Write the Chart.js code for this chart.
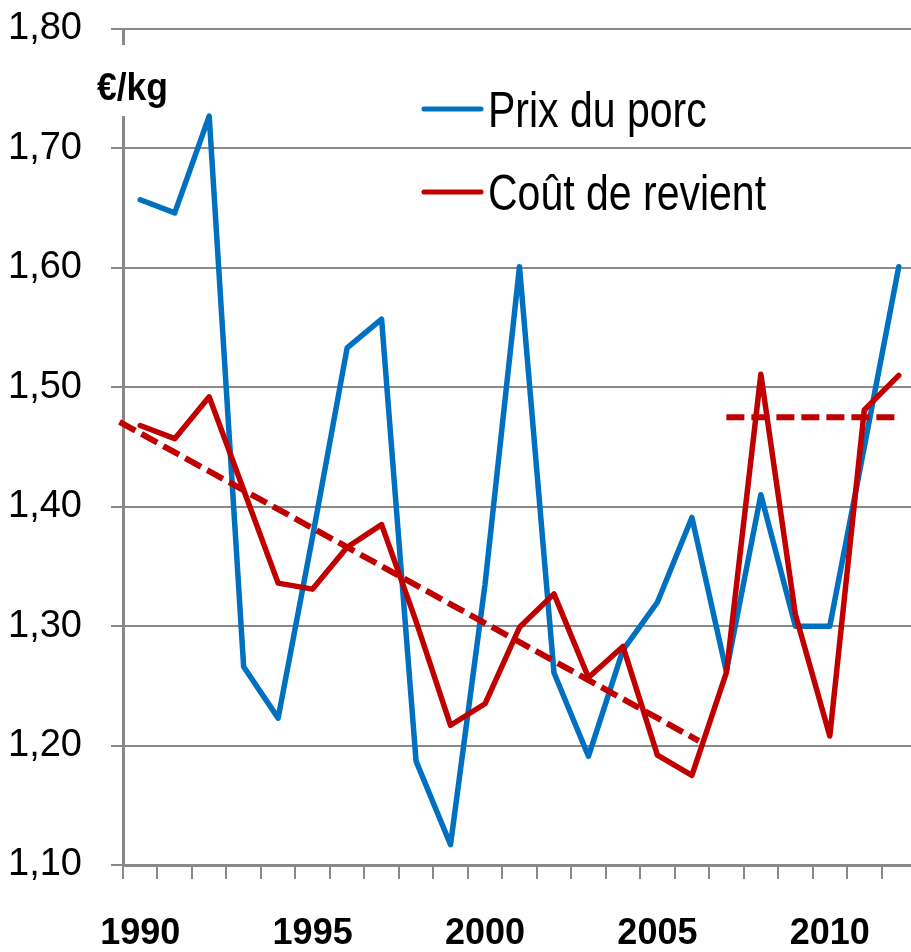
<!DOCTYPE html>
<html>
<head>
<meta charset="utf-8">
<script src="https://cdn.jsdelivr.net/npm/chart.js@4.4.1/dist/chart.umd.min.js"></script>
<style>
  html, body { margin: 0; padding: 0; background: #fff; overflow: hidden; }
</style>
</head>
<body>
<canvas id="porcChart" width="916" height="952"></canvas>
<script>
// données (€/kg)
const annees = ['1990', '1991', '1992', '1993', '1994', '1995', '1996', '1997', '1998', '1999', '2000', '2001',
                '2002', '2003', '2004', '2005', '2006', '2007', '2008', '2009', '2010', '2011', '2012'];
const prixPorc = [1.657, 1.646, 1.727, 1.266, 1.223, 1.375, 1.533, 1.557, 1.187, 1.117, 1.335, 1.601,
                  1.261, 1.191, 1.280, 1.320, 1.391, 1.262, 1.410, 1.300, 1.300, 1.450, 1.601];
const coutRevient = [1.468, 1.457, 1.492, 1.414, 1.336, 1.331, 1.366, 1.385, 1.304, 1.217, 1.235, 1.299,
                     1.327, 1.257, 1.283, 1.192, 1.175, 1.261, 1.511, 1.310, 1.208, 1.481, 1.510];
// tendance 1990-2006 et palier 2007-2012 (pointillés)
const tendanceX = [1989.4, 2006.2];
const tendanceY = [1.471, 1.204];
const palierX = [2007, 2012];
const palierY = [1.475, 1.475];

const BLEU = '#0070C0';
const ROUGE = '#C00000';
const GRIS = '#898989';
const POLICE = "'Liberation Sans', Arial, sans-serif";
const SERRE = 0.82; // pas de police étroite : on resserre le texte de la légende

// légende dans la zone du graphique + unité
const legendePlugin = {
    id: 'legende',
    afterDraw(chart) {
        const ctx = chart.ctx;
        const series = chart.data.datasets.filter(d => !d.tendance);
        ctx.save();
        series.forEach((ds, i) => {
            const y = 109 + i * 83;
            ctx.strokeStyle = ds.borderColor;
            ctx.lineWidth = 5;
            ctx.lineCap = 'round';
            ctx.beginPath();
            ctx.moveTo(424, y);
            ctx.lineTo(481, y);
            ctx.stroke();
            ctx.fillStyle = '#000';
            ctx.font = '50px ' + POLICE;
            ctx.textBaseline = 'alphabetic';
            const w = ctx.measureText(ds.label).width;
            ctx.fillText(ds.label, 488, y + 18, w * SERRE);
        });
        ctx.fillStyle = '#fff';
        ctx.fillRect(90, 45, 84, 71);
        ctx.fillStyle = '#000';
        ctx.font = 'bold 38px ' + POLICE;
        ctx.fillText('€/kg', 97, 100, 71);
        ctx.restore();
    }
};

const ligne = (label, data, color, order) => ({
    label: label,
    data: data,
    xAxisID: 'x',
    borderColor: color,
    backgroundColor: color,
    borderWidth: 5.5,
    borderJoinStyle: 'round',
    borderCapStyle: 'round',
    pointRadius: 0,
    tension: 0,
    order: order
});

const pointilles = (xs, ys) => ({
    label: '',
    tendance: true,
    data: xs.map((x, i) => ({ x: x, y: ys[i] })),
    xAxisID: 'xt',
    borderColor: ROUGE,
    borderWidth: 6,
    borderDash: [18, 7],
    borderCapStyle: 'butt',
    pointRadius: 0,
    tension: 0,
    clip: false,
    order: 1
});

const ctx = document.getElementById('porcChart').getContext('2d');
new Chart(ctx, {
    type: 'line',
    data: {
        labels: annees,
        datasets: [
            ligne('Prix du porc', prixPorc, BLEU, 4),
            ligne('Coût de revient', coutRevient, ROUGE, 3),
            pointilles(tendanceX, tendanceY),
            pointilles(palierX, palierY)
        ]
    },
    options: {
        responsive: false,
        animation: false,
        layout: { padding: { top: 29, left: 0, right: 0, bottom: 0 } },
        plugins: {
            legend: { display: false },
            tooltip: { enabled: false }
        },
        scales: {
            x: {
                type: 'category',
                offset: true,
                grid: { offset: true, drawOnChartArea: false, color: GRIS, lineWidth: 2, tickLength: 14 },
                border: { color: GRIS, width: 3 },
                ticks: {
                    autoSkip: false,
                    maxRotation: 0,
                    minRotation: 0,
                    padding: 33,
                    color: '#000',
                    font: { family: POLICE, size: 36, weight: 'bold' },
                    callback: function(value) {
                        const a = this.getLabelForValue(value);
                        return Number(a) % 5 === 0 ? a : '';
                    }
                },
                afterFit: s => { s.height = 87; s.paddingLeft = 0; s.paddingRight = 0; }
            },
            xt: {
                type: 'linear',
                display: false,
                min: 1989.5,
                max: 2012.5
            },
            y: {
                min: 1.1,
                max: 1.8,
                ticks: {
                    stepSize: 0.1,
                    padding: 29,
                    color: '#000',
                    font: { family: POLICE, size: 38 },
                    callback: v => v.toFixed(2).replace('.', ',')
                },
                grid: { color: GRIS, lineWidth: 2, tickLength: 12 },
                border: { color: GRIS, width: 3 },
                afterFit: s => { s.width = 123; s.paddingTop = 0; s.paddingBottom = 0; }
            }
        }
    },
    plugins: [legendePlugin]
});
</script>
</body>
</html>
